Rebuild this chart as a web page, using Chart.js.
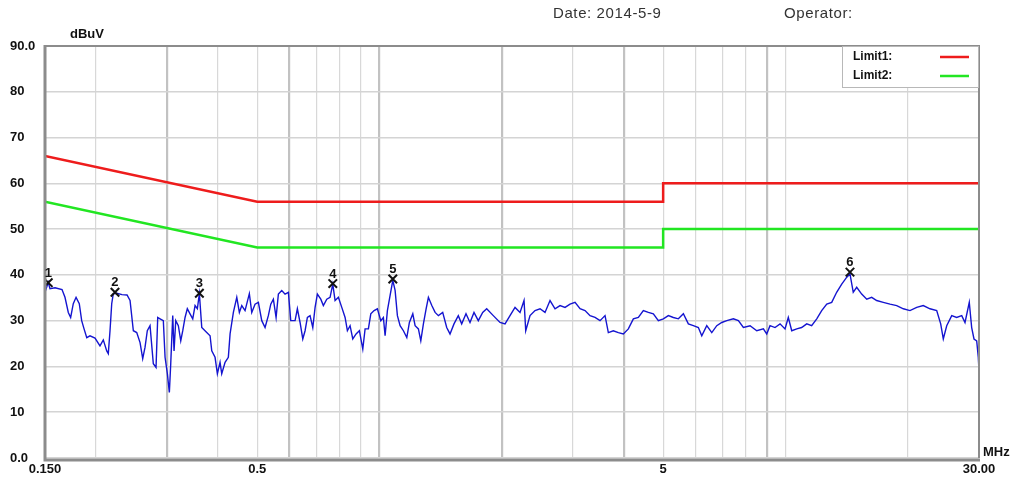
<!DOCTYPE html>
<html><head><meta charset="utf-8">
<script src="https://cdn.jsdelivr.net/npm/chart.js@4/dist/chart.umd.min.js"></script>
<style>
html,body{margin:0;padding:0;background:#fff;width:1015px;height:480px;overflow:hidden;}
#wrap{position:relative;width:1015px;height:480px;}
canvas{position:absolute;left:0;top:0;}
.hdr{position:absolute;top:4px;font:15px "Liberation Sans",Arial,sans-serif;letter-spacing:0.6px;color:#333;white-space:nowrap;}
</style></head><body>
<div id="wrap"><canvas id="c" width="1015" height="480"></canvas>
<div class="hdr" style="left:553px">Date: 2014-5-9</div>
<div class="hdr" style="left:784px">Operator:</div>
</div>
<script>
// ---- data ----
const traceFreq = [0.150,0.1528,0.1543,0.1588,0.1652,0.168,0.1712,0.1735,0.1761,0.1789,0.1822,0.1847,0.1872,0.1901,0.1936,0.1992,0.2049,0.2088,0.2129,0.2148,0.2169,0.2190,0.2210,0.2253,0.2322,0.2389,0.2430,0.2476,0.2524,0.2572,0.2611,0.2646,0.2680,0.2722,0.2773,0.2816,0.2843,0.2881,0.2935,0.2964,0.3003,0.3037,0.3061,0.3096,0.3119,0.3149,0.3196,0.3240,0.3277,0.3320,0.3363,0.3415,0.3468,0.3514,0.3560,0.3601,0.3650,0.3755,0.3826,0.3863,0.3936,0.3988,0.4049,0.4088,0.4166,0.4244,0.4286,0.4367,0.4452,0.4518,0.4580,0.4666,0.4781,
0.4847,0.4938,0.5032,0.5130,0.5227,0.5325,0.5399,0.5479,0.5564,0.5637,0.5746,0.5855,0.5966,0.6047,0.6197,0.6278,0.6375,0.6474,0.6559,0.6645,0.6747,0.6852,0.6942,0.7033,0.7170,0.7276,0.7418,0.7558,0.7675,0.7776,0.7923,0.8077,0.8230,0.8338,0.8466,0.8597,0.8760,0.8925,0.9099,0.9219,0.9393,0.9522,0.9702,0.9885,1.0078,1.0227,1.0327,1.0462,1.0624,1.0788,1.0930,1.1073,1.1244,1.1457,1.1680,1.1853,1.2084,1.2243,1.2474,1.2645,1.2833,1.3032,1.3202,1.3460,1.3714,1.3973,1.4318,1.4647,1.4924,1.5266,1.5643,1.5947,1.6341,1.6716,1.7100,1.7522,1.7964,1.8377,
1.9076,1.9820,2.0390,2.0976,2.1581,2.2203,2.2712,2.2932,2.3498,2.4174,2.4869,2.5584,2.6321,2.7078,2.7858,2.8659,2.9483,3.0332,3.1205,3.2103,3.3026,3.3977,3.4955,3.5960,3.6641,3.7695,3.8780,3.9896,4.1043,4.2225,4.3440,4.4690,4.5977,4.7300,4.8660,5.0061,5.1503,5.2985,5.4510,5.6078,5.7690,5.9351,6.1059,6.2250,6.4038,6.5882,6.7778,6.9729,7.1736,7.4472,7.6617,
7.8822,8.1876,8.5044,8.8290,8.998,9.168,9.432,9.704,9.983,10.17,10.37,10.67,10.97,11.29,11.61,11.95,12.29,12.65,13.01,13.38,13.77,14.17,14.43,14.70,14.99,15.42,15.87,16.32,16.79,17.43,18.11,18.81,19.53,20.28,21.07,21.87,22.72,23.60,24.14,24.50,24.98,25.70,26.43,27.20,27.71,28.39,28.78,29.16,29.61,29.88,30.00];
const traceLevel = [36.2,38.4,37.0,37.2,36.8,35.1,31.8,30.7,33.7,35.1,33.7,30.0,28.2,26.3,26.7,26.2,24.5,25.8,23.4,22.8,27.8,33.7,35.9,36.0,35.7,35.6,34.4,27.8,27.4,25.2,21.7,24.2,27.8,28.9,20.6,19.8,30.7,30.4,30.0,22.0,18.4,14.3,20.6,31.1,23.4,30.0,28.9,25.6,27.8,30.7,32.6,31.5,30.4,33.3,32.6,35.9,28.5,27.4,26.7,23.4,22.0,18.4,20.9,18.4,20.9,22.0,27.1,31.8,35.1,31.8,33.3,32.2,35.9,
31.8,33.6,34.0,30.0,28.5,31.1,33.6,34.7,30.7,35.8,36.6,35.8,36.2,30.0,30.0,32.6,29.6,26.0,27.8,30.7,31.1,28.5,32.9,35.8,34.7,33.3,34.7,35.1,38.0,34.4,35.1,32.9,30.7,27.8,28.9,26.0,27.1,27.8,23.8,28.2,28.2,31.5,32.2,32.6,30.0,30.7,26.7,32.2,35.5,38.8,36.6,31.1,28.9,27.8,26.3,29.6,31.5,28.9,28.2,25.6,29.3,32.6,35.1,33.3,31.8,31.1,31.8,28.5,27.1,29.3,31.1,29.3,31.5,29.6,31.8,30.0,31.8,32.6,
31.1,29.6,29.3,31.1,32.9,31.8,34.4,27.8,31.1,32.2,32.6,31.8,34.4,32.6,33.3,32.9,33.6,34.0,32.6,32.2,31.1,30.7,30.0,31.1,27.4,27.8,27.4,27.1,28.2,30.4,30.7,32.2,31.8,31.5,30.0,30.4,31.1,30.7,30.4,31.5,29.3,28.9,28.5,26.7,28.9,27.4,28.9,29.6,30.0,30.4,30.0,
28.5,28.9,27.8,28.2,27.1,28.9,28.5,29.3,28.2,30.7,27.8,28.2,28.5,29.3,28.9,30.4,32.2,33.6,34.0,36.2,38.0,39.5,40.2,36.2,37.3,35.8,34.7,35.1,34.4,34.0,33.6,33.3,32.6,32.2,32.9,33.3,32.6,32.2,29.3,26.0,28.9,31.1,30.7,31.1,29.6,34.0,28.5,26.0,25.6,22.0,19.0];

const limit1Freq = [0.15, 0.5, 5, 5, 30];
const limit1Level = [66, 56, 56, 60, 60];
const limit2Freq = [0.15, 0.5, 5, 5, 30];
const limit2Level = [56, 46, 46, 50, 50];

const markerNo = ['1','2','3','4','5','6'];
const markerFreq = [0.1528, 0.2231, 0.3601, 0.7675, 1.0788, 14.43];
const markerLevel = [38.3, 36.2, 36.0, 38.1, 39.1, 40.6];

const yTickValues = [0,10,20,30,40,50,60,70,80,90];
const yTickLabels = ['0.0','10','20','30','40','50','60','70','80','90.0'];
const xGridFreq = [0.15,0.2,0.3,0.4,0.5,0.6,0.7,0.8,0.9,1,2,3,4,5,6,7,8,9,10,20,30];
const xThickFreq = [0.3,0.6,1,2,4,9];
const xLabelFreq = [0.15, 0.5, 5, 30];
const xLabelText = ['0.150','0.5','5','30.00'];
const legendNames = ['Limit1:','Limit2:'];

// ---- helpers ----
const toXY = (xs, ys) => xs.map((x, i) => ({x: x, y: ys[i]}));
const near = (a, b) => Math.abs(a - b) / b < 1e-6;
const BOLD = 'bold 13px "Liberation Sans", Arial, sans-serif';

const extras = {
  id: 'extras',
  afterDraw(chart) {
    const c = chart.ctx, a = chart.chartArea;
    const xs = chart.scales.x, ys = chart.scales.y;
    c.save();
    // frame
    c.strokeStyle = '#8c8c8c';
    c.lineWidth = 2;
    c.beginPath();
    c.moveTo(a.left, a.top); c.lineTo(a.right, a.top); c.lineTo(a.right, a.bottom);
    c.stroke();
    c.lineWidth = 3;
    c.beginPath();
    c.moveTo(a.left, a.top - 1); c.lineTo(a.left, a.bottom + 2); c.lineTo(a.right + 1, a.bottom + 2);
    c.stroke();
    // unit labels
    c.fillStyle = '#111';
    c.font = BOLD;
    c.textBaseline = 'middle';
    c.textAlign = 'left';
    c.fillText('dBuV', 70, 34);
    c.fillText('MHz', 983, 452);
    // legend
    const lx = 842, ly = 46, lw = 136, lh = 41;
    c.fillStyle = '#fff';
    c.fillRect(lx, ly, lw, lh);
    c.strokeStyle = '#b8b8b8';
    c.lineWidth = 1;
    c.strokeRect(lx + 0.5, ly + 0.5, lw, lh);
    const cols = [chart.data.datasets[2].borderColor, chart.data.datasets[3].borderColor];
    legendNames.forEach((n, i) => {
      const yy = ly + 11 + i * 19;
      c.fillStyle = '#111';
      c.font = 'bold 12px "Liberation Sans", Arial, sans-serif';
      c.fillText(n, lx + 11, yy);
      c.strokeStyle = cols[i];
      c.lineWidth = 2.5;
      c.beginPath(); c.moveTo(lx + 98, yy); c.lineTo(lx + 127, yy); c.stroke();
    });
    // marker numbers
    c.fillStyle = '#111';
    c.font = 'bold 13px "Liberation Sans", Arial, sans-serif';
    c.textAlign = 'center';
    c.textBaseline = 'bottom';
    markerNo.forEach((n, i) => {
      const px = xs.getPixelForValue(markerFreq[i]);
      const py = ys.getPixelForValue(markerLevel[i]);
      c.fillText(n, px, py - 3);
    });
    c.restore();
  }
};

new Chart(document.getElementById('c'), {
  type: 'scatter',
  data: {
    datasets: [
      {label: 'markers', data: toXY(markerFreq, markerLevel), showLine: false,
       pointStyle: 'crossRot', pointRadius: 6, pointBorderWidth: 2,
       borderColor: '#111', backgroundColor: '#111', order: 0},
      {label: 'trace', data: toXY(traceFreq, traceLevel), showLine: true,
       borderColor: '#1414d0', borderWidth: 1.4, pointRadius: 0, tension: 0, order: 1},
      {label: 'Limit1', data: toXY(limit1Freq, limit1Level), showLine: true,
       borderColor: '#ee1c1c', borderWidth: 2.5, pointRadius: 0, tension: 0, order: 2},
      {label: 'Limit2', data: toXY(limit2Freq, limit2Level), showLine: true,
       borderColor: '#22e622', borderWidth: 2.5, pointRadius: 0, tension: 0, order: 3}
    ]
  },
  options: {
    responsive: false,
    animation: false,
    devicePixelRatio: 1,
    layout: {padding: {left: 10, right: 36, top: 46, bottom: 0}},
    plugins: {legend: {display: false}, tooltip: {enabled: false}},
    scales: {
      x: {
        type: 'logarithmic', min: 0.15, max: 30,
        afterBuildTicks: s => { s.ticks = xGridFreq.map(v => ({value: v})); },
        afterFit: s => { s.height = 22; },
        border: {display: false},
        grid: {
          drawTicks: false,
          color: ctx => {
            const v = ctx.tick && ctx.tick.value;
            if (v === undefined || near(v, 0.15) || near(v, 30)) return 'rgba(0,0,0,0)';
            return xThickFreq.some(t => near(v, t)) ? '#c2c2c2' : '#d8d8d8';
          },
          lineWidth: ctx => {
            const v = ctx.tick && ctx.tick.value;
            return (v !== undefined && xThickFreq.some(t => near(v, t))) ? 2.2 : 1.2;
          }
        },
        ticks: {
          autoSkip: false, maxRotation: 0, minRotation: 0, padding: 4,
          color: '#111', font: {family: '"Liberation Sans", Arial, sans-serif', size: 13, weight: 'bold'},
          callback: v => {
            const i = xLabelFreq.findIndex(f => near(v, f));
            return i >= 0 ? xLabelText[i] : '';
          }
        }
      },
      y: {
        type: 'linear', min: 0, max: 90,
        afterBuildTicks: s => { s.ticks = yTickValues.map(v => ({value: v})); },
        afterFit: s => { s.width = 35; },
        border: {display: false},
        grid: {drawTicks: false, color: '#d4d4d4', lineWidth: 1.6},
        ticks: {
          crossAlign: 'far', padding: 0,
          color: '#111', font: {family: '"Liberation Sans", Arial, sans-serif', size: 13, weight: 'bold'},
          callback: v => { const i = yTickValues.indexOf(v); return i >= 0 ? yTickLabels[i] : ''; }
        }
      }
    }
  },
  plugins: [extras]
});
</script>
</body></html>
